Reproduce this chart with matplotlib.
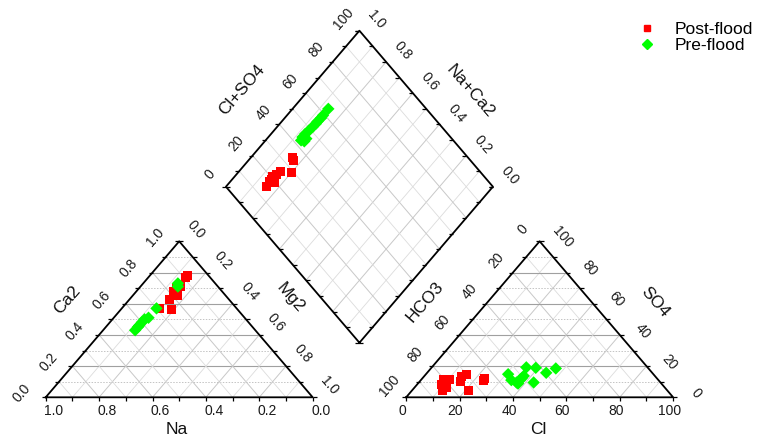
import numpy as np
import matplotlib
matplotlib.use('Agg')
import matplotlib.pyplot as plt
from matplotlib.lines import Line2D

plt.rcParams['font.family'] = ['Liberation Sans', 'DejaVu Sans']

# ---------------- data ----------------
# Cation triangle (fractions)
post_Ca2 = [0.78, 0.77, 0.71, 0.70, 0.68, 0.65, 0.63, 0.57, 0.56, 0.66]
post_Mg2 = [0.14, 0.14, 0.15, 0.14, 0.14, 0.17, 0.15, 0.14, 0.19, 0.15]
post_Na = [0.08, 0.09, 0.14, 0.16, 0.18, 0.18, 0.22, 0.29, 0.25, 0.19]

pre_Ca2 = [0.73, 0.71, 0.57, 0.51, 0.50, 0.48, 0.46, 0.45, 0.43]
pre_Mg2 = [0.13, 0.14, 0.13, 0.13, 0.12, 0.12, 0.12, 0.12, 0.12]
pre_Na = [0.14, 0.15, 0.30, 0.36, 0.38, 0.40, 0.42, 0.43, 0.45]

# Anion triangle (percent)
post_SO4 = [11.6, 11.6, 8.2, 6.3, 4.5, 13.5, 14.6, 9.9, 4.5, 12.1, 10.5]
post_Cl = [8.1, 10.4, 9.0, 12.0, 11.4, 14.0, 15.3, 15.5, 21.0, 23.4, 23.6]
post_HCO3 = [80.3, 78.0, 82.8, 81.7, 84.1, 72.5, 70.1, 74.6, 74.5, 64.5, 65.9]

pre_SO4 = [14.8, 11.0, 9.5, 12.1, 19.2, 18.9, 13.7, 9.5, 15.7, 18.5, 8.8, 11.0]
pre_Cl = [30.8, 33.9, 36.6, 37.2, 35.4, 39.1, 37.2, 43.0, 44.6, 46.8, 37.5, 37.0]
pre_HCO3 = [54.4, 55.1, 53.9, 50.7, 45.4, 42.0, 49.1, 47.5, 39.7, 34.7, 53.7, 52.0]

# Diamond (Cl+SO4 in percent, Na+Ca2 as fraction)
post_ClSO4 = [34.0, 33.5, 29.0, 25.4, 23.0, 20.5, 18.0, 15.3, 19.5, 19.1]
post_NaCa2 = [0.845, 0.831, 0.801, 0.846, 0.848, 0.859, 0.852, 0.851, 0.830, 0.852]

pre_ClSO4 = [63.3, 59.2, 57.5, 55.2, 53.8, 51.5, 49.2, 46.7, 44.6, 43.0, 43.9, 45.5]
pre_NaCa2 = [0.866, 0.865, 0.864, 0.866, 0.865, 0.867, 0.869, 0.872, 0.872, 0.867, 0.852, 0.853]

series_labels = ['Post-flood', 'Pre-flood']
series_colors = ['#ff0000', '#00ff00']

cation_ticks = [0.0, 0.2, 0.4, 0.6, 0.8, 1.0]
anion_ticks = [0, 20, 40, 60, 80, 100]

# ---------------- layout ----------------
W, H = 764, 437
X0, Y0 = 45.7, 397.3      # pixel of the cation triangle's bottom-left corner
SX, SY = 267.0, 156.0     # pixels per unit (side length / triangle height)
G = 0.35                  # gap between triangles (side units)
XA = 1 + G                # x offset of anion triangle

fig = plt.figure(figsize=(W / 100, H / 100), dpi=100)
ax = fig.add_axes([0, 0, 1, 1])
ax.set_xlim(-X0 / SX, (W - X0) / SX)
ax.set_ylim((Y0 - H) / SY, Y0 / SY)
ax.axis('off')


def px(xp, yp):
    return (xp - X0) / SX, (Y0 - yp) / SY


def tri_xy(right, top, xoff):
    right = np.asarray(right, float)
    top = np.asarray(top, float)
    return xoff + right + top / 2.0, top


def dia_xy(a, b):
    a = np.asarray(a, float)
    b = np.asarray(b, float)
    return 1 + G / 2 + 0.5 * (a - b), G + a + b


def seg(p, q, **kw):
    ax.plot([p[0], q[0]], [p[1], q[1]], solid_capstyle='butt', **kw)


MAJ_H = dict(color='#a0a0a0', lw=0.8, zorder=1)
MIN_H = dict(color='#c4c4c4', lw=0.7, ls=(0, (1.5, 1.5)), zorder=1)
MAJ_D = dict(color='#c8c8c8', lw=0.7, zorder=1)
MIN_D = dict(color='#dcdcdc', lw=0.6, zorder=1)
EDGE = dict(color='black', lw=1.3, zorder=3)
TICK = dict(color='black', lw=0.9, zorder=3)
tx, ty = 4.0 / SX, 3.5 / SY

# ---------------- triangles ----------------
for xoff in (0.0, XA):
    for k in range(1, 10):
        v = k / 10
        major = (k % 2 == 0)
        seg((xoff + v / 2, v), (xoff + 1 - v / 2, v), **(MAJ_H if major else MIN_H))
        seg((xoff + 1 - v, 0), (xoff + (1 - v) / 2, 1 - v), **(MAJ_D if major else MIN_D))
        seg((xoff + v, 0), (xoff + (1 + v) / 2, 1 - v), **(MAJ_D if major else MIN_D))
    ax.plot([xoff, xoff + 1, xoff + 0.5, xoff], [0, 0, 1, 0], **EDGE)
    for k in range(0, 11):
        v = k / 10
        seg((xoff + v / 2, v), (xoff + v / 2 - tx, v), **TICK)
        seg((xoff + 1 - v / 2, v), (xoff + 1 - v / 2 + tx, v), **TICK)
        seg((xoff + v, 0), (xoff + v, -ty), **TICK)

# ---------------- diamond ----------------
for k in range(1, 10):
    v = k / 10
    st = MAJ_D if k % 2 == 0 else MIN_D
    p, q = dia_xy([v, v], [0, 1])
    seg((p[0], q[0]), (p[1], q[1]), **st)
    p, q = dia_xy([0, 1], [v, v])
    seg((p[0], q[0]), (p[1], q[1]), **st)
dx_, dy_ = dia_xy([0, 1, 1, 0, 0], [0, 0, 1, 1, 0])
ax.plot(dx_, dy_, **EDGE)
for k in range(0, 11):
    v = k / 10
    x, y = dia_xy(v, 1)
    seg((x, y), (x - tx, y), **TICK)
    x, y = dia_xy(1, v)
    seg((x, y), (x - tx, y), **TICK)
    x, y = dia_xy(0, v)
    seg((x, y), (x + tx, y), **TICK)
    x, y = dia_xy(v, 0)
    seg((x, y), (x - tx, y), **TICK)

# ---------------- tick labels ----------------
TFS = 10


def lab(txt, xy, off, rot, fs=TFS):
    ax.annotate(txt, xy=xy, xytext=off, textcoords='offset pixels',
                ha='center', va='center', rotation=rot, rotation_mode='anchor',
                fontsize=fs, color='#1a1a1a', zorder=5)


for c in cation_ticks:
    lab(f'{c:.1f}', (c / 2, c), (-24, 4), 49)                 # Ca2 left side
    lab(f'{c:.1f}', ((1 + c) / 2, 1 - c), (17, 12), -49)      # Mg2 right side
    lab(f'{c:.1f}', (1 - c, 0), (8, -14), 0)                  # Na bottom

for h in anion_ticks:
    f = h / 100
    lab(f'{h}', (XA + (1 - f) / 2, 1 - f), (-17, 12), 49)     # HCO3 left side
    lab(f'{h}', (XA + 1 - f / 2, f), (23, 4), -49)            # SO4 right side
    lab(f'{h}', (XA + f, 0), (-4, -14), 0)                    # Cl bottom

for h in anion_ticks:
    x, y = dia_xy(h / 100, 1)
    lab(f'{h}', (x, y), (-16, 12), 49)                        # Cl+SO4
for c in cation_ticks:
    x, y = dia_xy(1, c)
    lab(f'{c:.1f}', (x, y), (17, 11), -49)                    # Na+Ca2

# ---------------- axis titles ----------------
TTS = 12.5
for txt, (xp, yp), rot in [('Ca2', (66.7, 300), 49), ('Mg2', (290, 298), -49),
                           ('Na', (176.7, 430), 0), ('HCO3', (425, 301.7), 49),
                           ('SO4', (655, 301.7), -49), ('Cl', (538.3, 430), 0),
                           ('Cl+SO4', (241.7, 90), 49), ('Na+Ca2', (470, 91.7), -49)]:
    ax.text(*px(xp, yp), txt, ha='center', va='center', rotation=rot,
            rotation_mode='anchor', fontsize=TTS, color='#111111', zorder=5)

# ---------------- points ----------------
groups = [
    (post_Mg2, post_Ca2, post_Cl, post_SO4, post_ClSO4, post_NaCa2, 's', 42),
    (pre_Mg2, pre_Ca2, pre_Cl, pre_SO4, pre_ClSO4, pre_NaCa2, 'D', 40),
]
for (mg, ca, cl, so4, clso4, naca, mk, sz), col in zip(groups, series_colors):
    x, y = tri_xy(mg, ca, 0.0)
    ax.scatter(x, y, marker=mk, s=sz, c=col, edgecolors='none', zorder=4)
    x, y = tri_xy(np.asarray(cl) / 100, np.asarray(so4) / 100, XA)
    ax.scatter(x, y, marker=mk, s=sz, c=col, edgecolors='none', zorder=4)
    x, y = dia_xy(np.asarray(clso4) / 100, naca)
    ax.scatter(x, y, marker=mk, s=sz, c=col, edgecolors='none', zorder=4)

# ---------------- legend ----------------
handles = [Line2D([], [], marker='s', color=series_colors[0], ls='None', markersize=4.5),
           Line2D([], [], marker='D', color=series_colors[1], ls='None', markersize=5)]
fig.legend(handles, series_labels, loc='upper left',
           bbox_to_anchor=(638.5 / W, 1 - 22 / H), frameon=False,
           borderpad=0, borderaxespad=0, handlelength=1.0, handletextpad=1.1,
           labelspacing=0.05, fontsize=12.5)

fig.savefig('out.png', dpi=100)
